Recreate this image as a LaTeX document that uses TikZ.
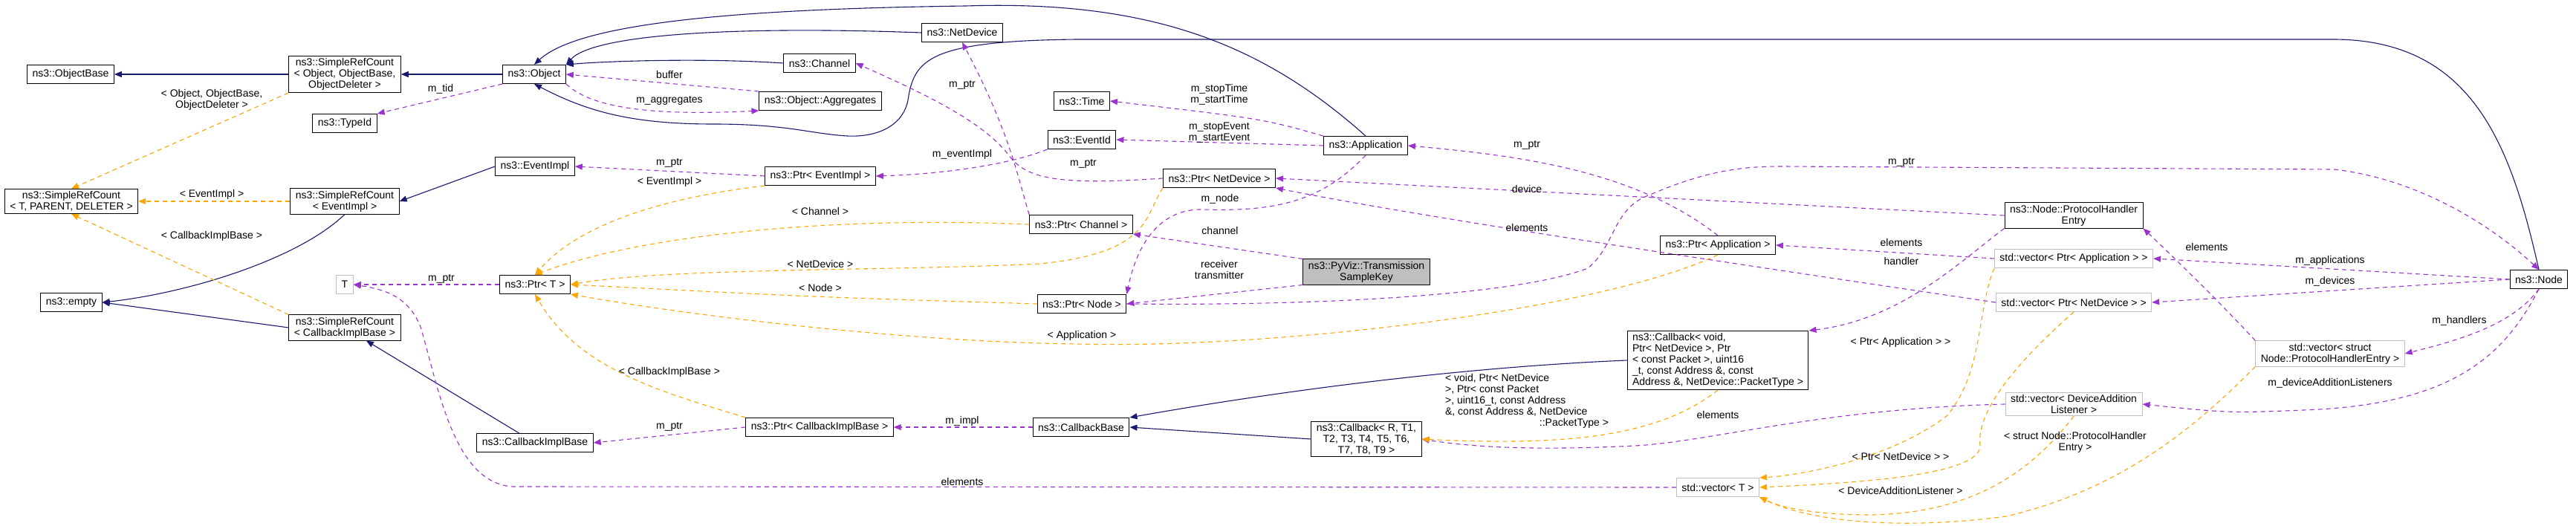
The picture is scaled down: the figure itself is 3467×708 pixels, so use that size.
\documentclass[tikz,border=0pt]{standalone}
\usepackage{fontspec}
\setmainfont{Liberation Sans}
\usetikzlibrary{arrows.meta}
\definecolor{navy}{HTML}{191970}
\definecolor{mauve}{HTML}{9A32CD}
\definecolor{amber}{HTML}{FFA500}
\definecolor{edgegrey}{HTML}{BFBFBF}
\newcommand{\dx}{\fontsize{14}{15}\selectfont}
\tikzset{
	cls/.style = {draw=black, line width=1pt, fill=white, inner xsep=7pt, inner ysep=3pt,
		minimum height=25pt, align=center, font=\dx},
	ext/.style = {cls, draw=edgegrey},
	key/.style = {cls, fill=edgegrey},
	tip/.style = {-{Triangle[length=10pt,width=8pt]}},
	inh/.style = {tip, draw=navy, line width=1.1pt},
	mem/.style = {tip, draw=mauve, line width=1.1pt, dash pattern=on 6pt off 5pt},
	tpl/.style = {tip, draw=amber, line width=1.1pt, dash pattern=on 6pt off 5pt},
	lbl/.style = {font=\dx, align=center, inner sep=0pt}
}
\begin{document}
\begin{tikzpicture}[x=1pt, y=-1pt]
	\useasboundingbox (0,0) rectangle (3467,708);

	% classes
	\node[cls] (objbase)   at (95,100)   {ns3::ObjectBase};
	\node[cls] (srcobj)    at (464,100)  {ns3::SimpleRefCount\\< Object, ObjectBase,\\ ObjectDeleter >};
	\node[cls] (object)    at (719,100)  {ns3::Object};
	\node[cls] (typeid)    at (464,166)  {ns3::TypeId};
	\node[cls] (channel)   at (1103,85)  {ns3::Channel};
	\node[cls] (aggr)      at (1104,136) {ns3::Object::Aggregates};
	\node[cls] (netdev)    at (1295,44)  {ns3::NetDevice};
	\node[cls] (time)      at (1456,136) {ns3::Time};
	\node[cls] (eventid)   at (1456,188) {ns3::EventId};
	\node[cls] (app)       at (1838,196) {ns3::Application};
	\node[cls] (eventimpl) at (720,224)  {ns3::EventImpl};
	\node[cls] (ptrevent)  at (1104,237) {ns3::Ptr< EventImpl >};
	\node[cls] (srctpd)    at (96,271)   {ns3::SimpleRefCount\\< T, PARENT, DELETER >};
	\node[cls] (srcevent)  at (464,271)  {ns3::SimpleRefCount\\< EventImpl >};
	\node[cls] (ptrnetdev) at (1641,240) {ns3::Ptr< NetDevice >};
	\node[cls] (ptrchan)   at (1455,302) {ns3::Ptr< Channel >};
	\node[key] (txkey)     at (1839,366) {ns3::PyViz::Transmission\\SampleKey};
	\node[cls] (ptrnode)   at (1456,409) {ns3::Ptr< Node >};
	\node[cls] (ptrapp)    at (2312,330) {ns3::Ptr< Application >};
	\node[ext] (t)         at (464,383)  {T};
	\node[cls] (ptrt)      at (720,383)  {ns3::Ptr< T >};
	\node[cls] (empty)     at (96,407)   {ns3::empty};
	\node[cls] (srccb)     at (464,441)  {ns3::SimpleRefCount\\< CallbackImplBase >};
	\node[cls] (cbimpl)    at (720,596)  {ns3::CallbackImplBase};
	\node[cls] (ptrcb)     at (1103,575) {ns3::Ptr< CallbackImplBase >};
	\node[cls] (cbbase)    at (1455,575) {ns3::CallbackBase};
	\node[cls] (cbr)       at (1839,591) {ns3::Callback< R, T1,\\ T2, T3, T4, T5, T6,\\ T7, T8, T9 >};
	\node[cls, align=left] (cbvoid) at (2312,485) {ns3::Callback< void,\\ Ptr< NetDevice >, Ptr\\< const Packet >, uint16\\\_t, const Address \&, const\\ Address \&, NetDevice::PacketType >};
	\node[ext] (vect)      at (2312,656) {std::vector< T >};
	\node[cls] (phe)       at (2791,290) {ns3::Node::ProtocolHandler\\Entry};
	\node[ext] (vecapp)    at (2791,348) {std::vector< Ptr< Application > >};
	\node[ext] (vecnd)     at (2791,407) {std::vector< Ptr< NetDevice > >};
	\node[ext] (vecphe)    at (3136,476) {std::vector< struct\\ Node::ProtocolHandlerEntry >};
	\node[ext] (vecdal)    at (2791,544) {std::vector< DeviceAddition\\Listener >};
	\node[cls] (node)      at (3417,376) {ns3::Node};

	% inheritance
	\draw[inh] (srcobj) -- (objbase);
	\draw[inh] (object) -- (srcobj);
	\draw[inh] (eventimpl.west) -- (srcevent.east);
	\draw[inh] (srcevent.south) .. controls (400,350) and (250,395) .. (empty.east);
	\draw[inh] (srccb.west) -- (empty.east);
	\draw[inh] (cbimpl) -- (srccb);
	\draw[inh] (channel.west) .. controls (950,78) and (820,82) .. (object.north east);
	\draw[inh] (netdev.west) .. controls (1000,35) and (800,45) .. (object.north east);
	\draw[inh] (app.north) .. controls (1700,60) and (1550,0) .. (1300,8)
		.. controls (1000,12) and (780,30) .. (object.north);
	\draw[inh] (node.north) .. controls (3380,200) and (3330,53) .. (3140,53) -- (1450,53)
		.. controls (1250,55) and (1230,80) .. (1222,135) .. controls (1215,170) and (1180,185) .. (1140,183)
		.. controls (1090,180) and (1060,167) .. (960,167) .. controls (850,167) and (790,150) .. (object.south);
	\draw[inh] (cbvoid.west) .. controls (1950,495) and (1700,530) .. (cbbase.north east);
	\draw[inh] (cbr.west) -- (cbbase.east);

	% members
	\draw[mem] (object.south west) -- (typeid.north east);
	\draw[mem] (aggr.north west) -- (object.east);
	\draw[mem] (object.south east) .. controls (800,150) and (900,155) .. (aggr.south west);
	\draw[mem] (ptrevent.west) -- (eventimpl.east);
	\draw[mem] (eventid.south west) .. controls (1350,225) and (1250,235) .. (ptrevent.east);
	\draw[mem] (ptrt.west) -- (t.east);
	\draw[mem] (ptrcb.west) -- (cbimpl.east);
	\draw[mem] (cbbase.west) -- (ptrcb.east);
	\draw[mem] (vect.west) -- (690,655) .. controls (610,650) and (590,520) .. (566,440)
		.. controls (550,400) and (520,390) .. (t.east);
	\draw[mem] (ptrchan.north west) .. controls (1370,240) and (1360,180) .. (netdev.south);
	\draw[mem] (ptrnetdev.west) .. controls (1420,250) and (1380,240) .. (1357,208)
		.. controls (1320,160) and (1230,120) .. (channel.east);
	\draw[mem] (app.north west) .. controls (1700,160) .. (time.east);
	\draw[mem] (app.west) -- (eventid.east);
	\draw[mem] (app.south) .. controls (1780,270) and (1720,285) .. (1620,282)
		.. controls (1560,280) and (1530,330) .. (ptrnode.north east);
	\draw[mem] (txkey.north west) -- (ptrchan.south east);
	\draw[mem] (txkey.south west) -- (ptrnode.east);
	\draw[mem] (ptrapp.north) .. controls (2200,230) and (2050,210) .. (app.east);
	\draw[mem] (phe.west) -- (ptrnetdev.east);
	\draw[mem] (vecnd.west) .. controls (2300,350) and (1900,290) .. (ptrnetdev.south east);
	\draw[mem] (vecapp.west) -- (ptrapp.east);
	\draw[mem] (phe.south west) .. controls (2640,350) and (2560,430) .. (cbvoid.north east);
	\draw[mem] (ptrnode.east) .. controls (1800,412) and (2050,395) .. (2137,361)
		.. controls (2175,330) and (2170,280) .. (2221,262) .. controls (2300,228) and (2350,224) .. (2397,224)
		-- (3141,228) .. controls (3250,240) and (3350,300) .. (node.north);
	\draw[mem] (vecphe.north west) .. controls (3000,420) and (2940,360) .. (phe.south east);
	\draw[mem] (vecdal.west) .. controls (2450,550) and (2300,595) .. (2200,600)
		.. controls (2100,605) and (2000,605) .. (cbr.east);
	\draw[mem] (node.west) -- (vecapp.east);
	\draw[mem] (node.west) -- (vecnd.east);
	\draw[mem] (node.south) .. controls (3380,440) and (3300,460) .. (vecphe.east);
	\draw[mem] (node.south) .. controls (3370,480) and (3300,545) .. (3100,552)
		.. controls (3000,556) .. (vecdal.east);

	% templates
	\draw[tpl] (srcobj.south west) -- (srctpd.north);
	\draw[tpl] (srcevent.west) -- (srctpd.east);
	\draw[tpl] (srccb.north west) -- (srctpd.south);
	\draw[tpl] (ptrevent.south west) .. controls (900,265) and (780,300) .. (ptrt.north);
	\draw[tpl] (ptrchan.west) .. controls (1100,290) and (850,320) .. (ptrt.north);
	\draw[tpl] (ptrnetdev.south west) .. controls (1540,290) and (1550,340) .. (1400,355)
		.. controls (1200,365) and (900,360) .. (ptrt.east);
	\draw[tpl] (ptrnode.west) .. controls (1100,400) .. (ptrt.east);
	\draw[tpl] (ptrapp.south) .. controls (2150,420) and (1700,470) .. (1450,463)
		.. controls (1200,460) and (900,420) .. (ptrt.south east);
	\draw[tpl] (ptrcb.north west) .. controls (900,530) and (780,500) .. (ptrt.south);
	\draw[tpl] (cbvoid.south) .. controls (2230,590) and (2100,600) .. (cbr.east);
	\draw[tpl] (vecapp.south west) .. controls (2660,420) and (2670,500) .. (2620,560)
		.. controls (2540,620) and (2420,640) .. (vect.north east);
	\draw[tpl] (vecnd.south) .. controls (2700,500) and (2660,560) .. (2665,600)
		.. controls (2665,640) and (2500,650) .. (vect.east);
	\draw[tpl] (vecdal.south) .. controls (2730,640) and (2650,690) .. (2520,693)
		.. controls (2450,693) and (2400,685) .. (vect.south east);
	\draw[tpl] (vecphe.south west) .. controls (2950,580) and (2850,660) .. (2700,695)
		.. controls (2550,715) and (2430,700) .. (vect.south east);

	% labels
	\node[lbl] (l1)  at (285,134)  {< Object, ObjectBase,\\ObjectDeleter >};
	\node[lbl] (l2)  at (593,120)  {m\_tid};
	\node[lbl] (l3)  at (901,101)  {buffer};
	\node[lbl] (l4)  at (901,135)  {m\_aggregates};
	\node[lbl] (l5)  at (901,219)  {m\_ptr};
	\node[lbl] (l6)  at (901,245)  {< EventImpl >};
	\node[lbl] (l7)  at (285,262)  {< EventImpl >};
	\node[lbl] (l8)  at (285,318)  {< CallbackImplBase >};
	\node[lbl] (l9)  at (1104,284) {< Channel >};
	\node[lbl] (l10) at (1104,355) {< NetDevice >};
	\node[lbl] (l11) at (1104,387) {< Node >};
	\node[lbl] (l12) at (594,375)  {m\_ptr};
	\node[lbl] (l13) at (901,501)  {< CallbackImplBase >};
	\node[lbl] (l14) at (901,574)  {m\_ptr};
	\node[lbl] (l15) at (1295,114) {m\_ptr};
	\node[lbl] (l16) at (1641,127) {m\_stopTime\\m\_startTime};
	\node[lbl] (l17) at (1641,179) {m\_stopEvent\\m\_startEvent};
	\node[lbl] (l18) at (1295,208) {m\_eventImpl};
	\node[lbl] (l19) at (1458,220) {m\_ptr};
	\node[lbl] (l20) at (2055,195) {m\_ptr};
	\node[lbl] (l21) at (1642,268) {m\_node};
	\node[lbl] (l22) at (2055,254) {device};
	\node[lbl] (l23) at (1642,310) {channel};
	\node[lbl] (l24) at (2055,306) {elements};
	\node[lbl] (l25) at (1641,363) {receiver\\transmitter};
	\node[lbl] (l26) at (1456,452) {< Application >};
	\node[lbl, align=left] (l27) at (2055,540) {< void, Ptr< NetDevice\\>, Ptr< const Packet\\>, uint16\_t, const Address\\\&, const Address \&, NetDevice\\\hphantom{\&, const Address \&, }::PacketType >};
	\node[lbl] (l28) at (2312,558) {elements};
	\node[lbl] (l29) at (1295,567) {m\_impl};
	\node[lbl] (l30) at (1295,648) {elements};
	\node[lbl] (l31) at (2559,218) {m\_ptr};
	\node[lbl] (l32) at (2559,326) {elements};
	\node[lbl] (l33) at (2559,351) {handler};
	\node[lbl] (l34) at (2970,332) {elements};
	\node[lbl] (l35) at (3136,351) {m\_applications};
	\node[lbl] (l36) at (3136,379) {m\_devices};
	\node[lbl] (l37) at (3310,432) {m\_handlers};
	\node[lbl] (l38) at (3136,516) {m\_deviceAdditionListeners};
	\node[lbl] (l39) at (2558,461) {< Ptr< Application > >};
	\node[lbl] (l40) at (2793,595) {< struct Node::ProtocolHandler\\Entry >};
	\node[lbl] (l41) at (2558,614) {< Ptr< NetDevice > >};
	\node[lbl] (l42) at (2558,660) {< DeviceAdditionListener >};
\end{tikzpicture}
\end{document}
